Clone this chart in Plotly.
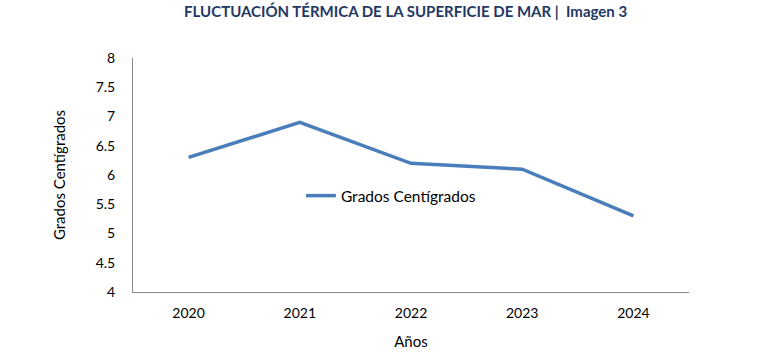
import plotly.graph_objects as go

years = ["2020", "2021", "2022", "2023", "2024"]
temps = [6.3, 6.9, 6.2, 6.1, 5.3]
series_name = "Grados Centígrados"
title_text = "FLUCTUACIÓN TÉRMICA DE LA SUPERFICIE DE MAR |  Imagen 3"
y_ticks = [4, 4.5, 5, 5.5, 6, 6.5, 7, 7.5, 8]

fig = go.Figure()
fig.add_trace(go.Scatter(
    x=years, y=temps, mode="lines", name=series_name,
    line=dict(color="#4A7EBB", width=3.5),
))

font_family = "Lato, 'Open Sans', sans-serif"
fig.update_layout(
    width=761, height=362,
    margin=dict(l=133, r=72, t=58, b=70),
    paper_bgcolor="white", plot_bgcolor="white",
    font=dict(family=font_family, size=14, color="#000000"),
    title=dict(text="<b>" + title_text + "</b>", x=0.533, xanchor="center",
               y=1 - 12 / 362, yanchor="middle",
               font=dict(family=font_family, size=15, color="#1F3864")),
    showlegend=True,
    legend=dict(x=0.302, y=0.41, xanchor="left", yanchor="middle",
                bgcolor="rgba(0,0,0,0)", font=dict(size=15.5)),
    xaxis=dict(type="category", range=[-0.5, 4.5], showgrid=False,
               showline=True, linecolor="#8C8C8C", linewidth=1, ticks="",
               ticklabelstandoff=8,
               title=dict(text="Años", standoff=16, font=dict(size=15)), zeroline=False),
    yaxis=dict(range=[4, 8], tickvals=y_ticks, showgrid=False,
               showline=True, linecolor="#8C8C8C", linewidth=1, ticks="",
               ticklabelstandoff=14,
               title=dict(text="Grados Centígrados", standoff=26, font=dict(size=15)),
               zeroline=False),
)

fig.write_html("out.html", config={"displayModeBar": False},
               post_script="document.body.style.margin='0';")
